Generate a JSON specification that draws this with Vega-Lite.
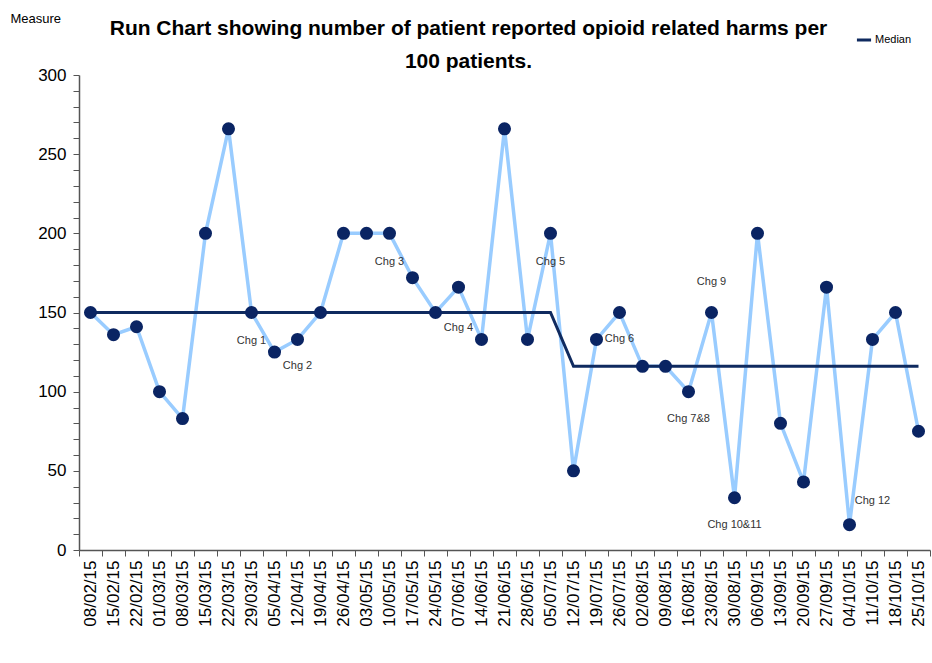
{
  "$schema": "https://vega.github.io/schema/vega-lite/v6.json",
  "width": 851,
  "height": 475,
  "autosize": "none",
  "padding": {"left": 79, "top": 75, "right": 2, "bottom": 113},
  "background": "white",
  "config": {"view": {"stroke": null}},
  "title": {
    "text": ["Run Chart showing number of patient reported opioid related harms per", "100 patients."],
    "font": "Liberation Sans",
    "fontSize": 21,
    "fontWeight": "bold",
    "color": "#000000",
    "anchor": "middle",
    "dx": -36,
    "offset": -60,
    "lineHeight": 33
  },
  "datasets": {
    "runs": [
      {"date": "08/02/15", "value": 150},
      {"date": "15/02/15", "value": 136},
      {"date": "22/02/15", "value": 141},
      {"date": "01/03/15", "value": 100},
      {"date": "08/03/15", "value": 83},
      {"date": "15/03/15", "value": 200},
      {"date": "22/03/15", "value": 266},
      {"date": "29/03/15", "value": 150},
      {"date": "05/04/15", "value": 125},
      {"date": "12/04/15", "value": 133},
      {"date": "19/04/15", "value": 150},
      {"date": "26/04/15", "value": 200},
      {"date": "03/05/15", "value": 200},
      {"date": "10/05/15", "value": 200},
      {"date": "17/05/15", "value": 172},
      {"date": "24/05/15", "value": 150},
      {"date": "07/06/15", "value": 166},
      {"date": "14/06/15", "value": 133},
      {"date": "21/06/15", "value": 266},
      {"date": "28/06/15", "value": 133},
      {"date": "05/07/15", "value": 200},
      {"date": "12/07/15", "value": 50},
      {"date": "19/07/15", "value": 133},
      {"date": "26/07/15", "value": 150},
      {"date": "02/08/15", "value": 116},
      {"date": "09/08/15", "value": 116},
      {"date": "16/08/15", "value": 100},
      {"date": "23/08/15", "value": 150},
      {"date": "30/08/15", "value": 33},
      {"date": "06/09/15", "value": 200},
      {"date": "13/09/15", "value": 80},
      {"date": "20/09/15", "value": 43},
      {"date": "27/09/15", "value": 166},
      {"date": "04/10/15", "value": 16},
      {"date": "11/10/15", "value": 133},
      {"date": "18/10/15", "value": 150},
      {"date": "25/10/15", "value": 75}
    ],
    "medians": [
      {"date": "08/02/15", "value": 150, "series": "Median"},
      {"date": "05/07/15", "value": 150, "series": "Median"},
      {"date": "12/07/15", "value": 116, "series": "Median"},
      {"date": "25/10/15", "value": 116, "series": "Median"}
    ],
    "notes": [
      {"date": "29/03/15", "value": 132, "label": "Chg 1"},
      {"date": "12/04/15", "value": 116, "label": "Chg 2"},
      {"date": "10/05/15", "value": 182, "label": "Chg 3"},
      {"date": "07/06/15", "value": 140, "label": "Chg 4"},
      {"date": "05/07/15", "value": 182, "label": "Chg 5"},
      {"date": "26/07/15", "value": 133, "label": "Chg 6"},
      {"date": "16/08/15", "value": 83, "label": "Chg 7&8"},
      {"date": "23/08/15", "value": 169, "label": "Chg 9"},
      {"date": "30/08/15", "value": 16, "label": "Chg 10&11"},
      {"date": "11/10/15", "value": 31, "label": "Chg 12"}
    ]
  },
  "data": {"name": "runs"},
  "encoding": {
    "x": {
      "field": "date",
      "type": "ordinal",
      "sort": null,
      "scale": {"type": "band", "paddingInner": 0, "paddingOuter": 0},
      "axis": {
        "title": null,
        "labelAngle": -90,
        "labelFont": "Liberation Sans",
        "labelFontSize": 17,
        "labelColor": "#000000",
        "labelPadding": 4,
        "labelOverlap": false,
        "tickBand": "extent",
        "tickSize": 6,
        "tickColor": "#555555",
        "domainColor": "#555555",
        "domainWidth": 1.5,
        "grid": false
      }
    },
    "y": {
      "field": "value",
      "type": "quantitative",
      "scale": {"domain": [0, 300]},
      "axis": {
        "title": "Measure",
        "titleAngle": 0,
        "titleFont": "Liberation Sans",
        "titleFontSize": 13,
        "titleFontWeight": "normal",
        "titleColor": "#000000",
        "titleAnchor": "end",
        "titleAlign": "left",
        "titleBaseline": "bottom",
        "titleX": -69,
        "titleY": -50,
        "values": [0, 10, 20, 30, 40, 50, 60, 70, 80, 90, 100, 110, 120, 130, 140, 150, 160, 170, 180, 190, 200, 210, 220, 230, 240, 250, 260, 270, 280, 290, 300],
        "labelExpr": "datum.value % 50 == 0 ? datum.label : ''",
        "labelOverlap": false,
        "labelFont": "Liberation Sans",
        "labelFontSize": 17,
        "labelColor": "#000000",
        "labelPadding": 7,
        "tickSize": 6,
        "tickColor": "#555555",
        "domainColor": "#555555",
        "domainWidth": 1.5,
        "grid": false,
        "encode": {
          "ticks": {
            "update": {
              "x": {"signal": "datum.value % 50 == 0 ? -6 : 0"},
              "x2": {"value": 5}
            }
          }
        }
      }
    }
  },
  "layer": [
    {
      "mark": {"type": "line", "color": "#99CCFF", "strokeWidth": 3.5}
    },
    {
      "data": {"name": "medians"},
      "mark": {"type": "line", "strokeWidth": 3},
      "encoding": {
        "stroke": {
          "field": "series",
          "type": "nominal",
          "scale": {"range": ["#0F2A5F"]},
          "legend": {
            "title": null,
            "orient": "none",
            "legendX": 776,
            "legendY": -44,
            "symbolType": "stroke",
            "symbolStrokeWidth": 3,
            "symbolSize": 200,
            "labelFont": "Liberation Sans",
            "labelFontSize": 11,
            "labelColor": "#000000",
            "labelOffset": 2
          }
        }
      }
    },
    {
      "mark": {"type": "point", "shape": "circle", "filled": true, "size": 170, "color": "#0A2463", "opacity": 1}
    },
    {
      "data": {"name": "notes"},
      "mark": {"type": "text", "font": "Liberation Sans", "fontSize": 11, "color": "#333333"},
      "encoding": {
        "text": {"field": "label"}
      }
    }
  ]
}
